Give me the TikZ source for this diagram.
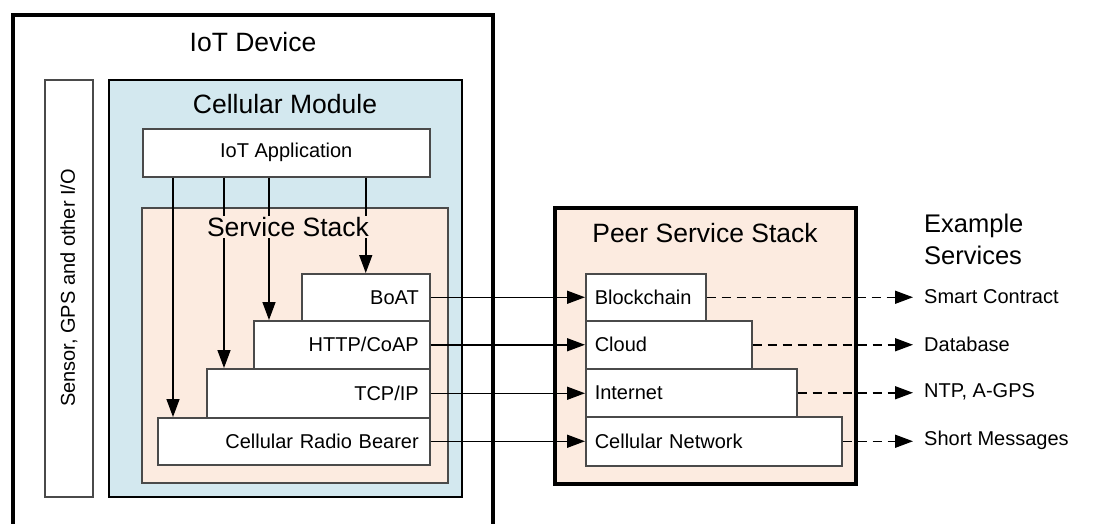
\documentclass[tikz,border=0pt]{standalone}
\usepackage{fontspec}
\setmainfont{Liberation Sans}
\usetikzlibrary{arrows.meta,positioning,calc}
\definecolor{modblue}{HTML}{D3E8EF}
\definecolor{peach}{HTML}{FCEBE0}
\definecolor{edgegray}{HTML}{4A4A4A}
\tikzset{
  big/.style={font=\fontsize{26.5}{31}\selectfont},
  small/.style={font=\fontsize{20}{24}\selectfont},
  layer/.style={draw=edgegray, line width=1.5pt, fill=white, small, inner ysep=0pt, anchor=north west},
  rlayer/.style={layer, align=right, inner xsep=11pt},
  llayer/.style={layer, align=left, inner xsep=9pt},
  arr/.style={line width=1.5pt, -{Triangle[length=18pt,width=13pt]}},
  darr/.style={line width=1.5pt, dash pattern=on 9pt off 6pt, -{Triangle[length=18pt,width=13pt]}},
  svc/.style={small, anchor=west, inner xsep=11pt, inner ysep=0pt},
}
\begin{document}
\begin{tikzpicture}[x=1pt,y=-1pt]
\useasboundingbox (0,0) rectangle (1097,523);
% IoT device outer box
\draw[line width=3.5pt] (13,15) rectangle (493,560);
\node[big] (iotdev) at (253,42) {IoT Device};
% sensor box
\draw[line width=2pt, draw=edgegray] (45,80) rectangle (93,497);
\node[small, rotate=90] (sensor) at (69,288) {Sensor, GPS and other I/O};
% cellular module
\draw[line width=2.5pt, fill=modblue] (109,80) rectangle (462,497);
\node[big] (cellmod) at (285,104) {Cellular Module};
% IoT application
\node[layer, minimum width=287pt, minimum height=48pt, align=center] (app) at (142,128) {IoT Application};
% service stack
\draw[line width=1.5pt, draw=edgegray, fill=peach] (142,208) rectangle (448,483);
% layers
\node[rlayer, minimum width=128pt, minimum height=47pt, text width=106pt] (boat) at (301,273) {BoAT};
\node[rlayer, minimum width=176pt, minimum height=48pt, text width=154pt] (http) at (253,320) {HTTP/CoAP};
\node[rlayer, minimum width=223pt, minimum height=49pt, text width=201pt] (tcp) at (206,368) {TCP/IP};
\node[rlayer, minimum width=272pt, minimum height=47pt, text width=250pt] (crb) at (157,417) {Cellular Radio Bearer};
% arrows from app
\coordinate (pb) at (boat.north);
\coordinate (ph) at ([xshift=16pt]http.north west);
\coordinate (pt) at ([xshift=18pt]tcp.north west);
\coordinate (pc) at ([xshift=16pt]crb.north west);
\draw[arr] (app.south -| pb) -- (pb);
\draw[arr] (app.south -| ph) -- (ph);
\draw[arr] (app.south -| pt) -- (pt);
\draw[arr] (app.south -| pc) -- (pc);
\node[big, fill=peach, inner sep=1pt] (sstack) at (288,227) {Service Stack};
% peer service stack
\draw[line width=3.5pt, fill=peach] (555,208) rectangle (856,484);
\node[big] (peer) at (705,233) {Peer Service Stack};
\node[llayer, minimum width=120pt, minimum height=47pt, text width=102pt] (bc) at (585,273) {Blockchain};
\node[llayer, minimum width=166pt, minimum height=48pt, text width=148pt] (cloud) at (585,320) {Cloud};
\node[llayer, minimum width=211pt, minimum height=48pt, text width=193pt] (inet) at (585,368) {Internet};
\node[llayer, minimum width=256pt, minimum height=49pt, text width=238pt] (cnet) at (585,416) {Cellular Network};
% horizontal arrows
\draw[arr] (boat.east) -- (boat.east -| bc.west);
\draw[arr] (http.east) -- (http.east -| cloud.west);
\draw[arr] (tcp.east) -- (tcp.east -| inet.west);
\draw[arr] (crb.east) -- (crb.east -| cnet.west);
% example services
\node[anchor=west, align=left, inner sep=0pt, font=\fontsize{25.5}{32}\selectfont] (ex) at (924,239) {Example\\Services};
\node[svc] (s1) at (913,296.5) {Smart Contract};
\node[svc] (s2) at (913,344) {Database};
\node[svc] (s3) at (913,392) {NTP, A-GPS};
\node[svc] (s4) at (913,440.5) {Short Messages};
\draw[darr] (bc.east) -- (bc.east -| s1.west);
\draw[darr] (cloud.east) -- (cloud.east -| s2.west);
\draw[darr] (inet.east) -- (inet.east -| s3.west);
\draw[darr] (cnet.east) -- (cnet.east -| s4.west);
\end{tikzpicture}
\end{document}
